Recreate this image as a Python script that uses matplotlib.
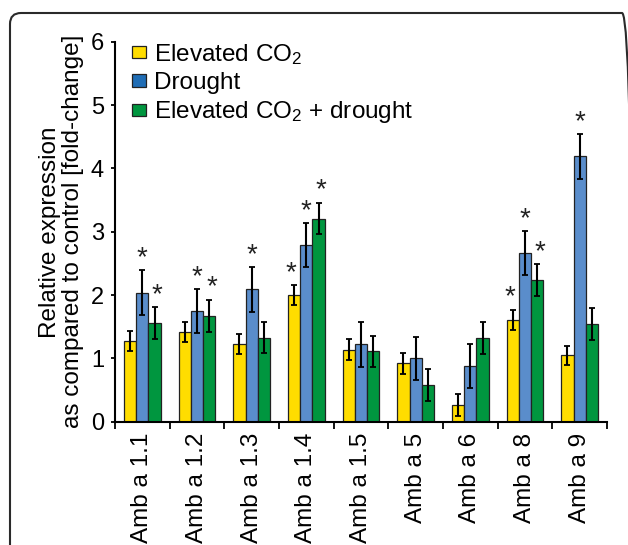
import matplotlib
matplotlib.use('Agg')
import matplotlib.pyplot as plt
import matplotlib.patches as mpatches
import matplotlib.transforms as mtransforms
import numpy as np

plt.rcParams['font.family'] = ['Liberation Sans', 'DejaVu Sans']
plt.rcParams['mathtext.default'] = 'regular'

genes = ['Amb a 1.1', 'Amb a 1.2', 'Amb a 1.3', 'Amb a 1.4', 'Amb a 1.5',
         'Amb a 5', 'Amb a 6', 'Amb a 8', 'Amb a 9']
co2 = [1.28, 1.42, 1.23, 2.00, 1.14, 0.92, 0.26, 1.61, 1.05]
co2_err = [0.16, 0.16, 0.16, 0.16, 0.16, 0.16, 0.17, 0.16, 0.15]
drought = [2.04, 1.75, 2.09, 2.79, 1.22, 1.00, 0.88, 2.66, 4.19]
drought_err = [0.35, 0.35, 0.35, 0.35, 0.36, 0.34, 0.35, 0.35, 0.35]
both = [1.56, 1.67, 1.33, 3.21, 1.11, 0.58, 1.32, 2.24, 1.54]
both_err = [0.25, 0.26, 0.25, 0.25, 0.25, 0.26, 0.25, 0.25, 0.25]
# significance stars (1 = marked)
co2_sig = [0, 0, 0, 1, 0, 0, 0, 1, 0]
drought_sig = [1, 1, 1, 1, 0, 0, 0, 1, 1]
both_sig = [1, 1, 0, 1, 0, 0, 0, 1, 0]

labels = ['Elevated CO$_2$', 'Drought', 'Elevated CO$_2$ + drought']
bar_colors = ['#FFDD00', '#5A8DCB', '#00963F']
legend_colors = ['#FFDD00', '#1F6DB5', '#00963F']

W, H = 628, 545
fig = plt.figure(figsize=(W / 100, H / 100), dpi=100)

# rounded frame around the panel
frame = mpatches.FancyBboxPatch((10, -30), 623, 532 + 30,
                                boxstyle='round,pad=0,rounding_size=11',
                                transform=mtransforms.IdentityTransform(),
                                fill=False, edgecolor='#2a2a2a', linewidth=1.5)
fig.patches.append(frame)

ax = fig.add_axes([115 / W, 1 - 421.7 / H, 492 / W, (421.7 - 41.9) / H])

x = np.arange(len(genes))
bw = 0.224
series = [(co2, co2_err, co2_sig), (drought, drought_err, drought_sig),
          (both, both_err, both_sig)]
for k, (vals, errs, sig) in enumerate(series):
    xs = x + (k - 1) * bw
    ax.bar(xs, vals, bw, color=bar_colors[k], edgecolor='#222222', linewidth=0.9,
           yerr=errs, error_kw=dict(ecolor='black', elinewidth=1.5, capsize=2,
                                    capthick=1.3), zorder=2)
    for i in range(len(genes)):
        if sig[i]:
            ax.text(xs[i] + (k - 1) * 0.05, vals[i] + errs[i] + 0.08, '*',
                    ha='center', va='baseline', fontsize=20, color='#222222')

ax.set_xlim(-0.5, len(genes) - 0.5)
ax.set_ylim(0, 6)
ax.set_yticks(range(0, 7))
ax.tick_params(axis='y', direction='out', length=3, width=1.3, pad=5, labelsize=17)

ax.set_xticks(np.arange(-0.5, len(genes), 1))
ax.set_xticklabels([])
ax.tick_params(axis='x', which='major', direction='out', length=5, width=1.3)
ax.set_xticks(x, minor=True)
ax.set_xticklabels(genes, minor=True, rotation=90, fontsize=17.5, va='top')
ax.tick_params(axis='x', which='minor', length=0, pad=8)

for s in ['top', 'right']:
    ax.spines[s].set_visible(False)
for s in ['left', 'bottom']:
    ax.spines[s].set_linewidth(1.5)

ax.set_ylabel('Relative expression\nas compared to control [fold-change]',
              fontsize=17.5, labelpad=5, linespacing=1.05)

handles = [mpatches.Patch(facecolor=c, edgecolor='#222222', linewidth=0.9)
           for c in legend_colors]
ax.legend(handles, labels, loc='upper left', bbox_to_anchor=(0.035, 1.0),
          frameon=False, fontsize=17.5, handlelength=0.55, handleheight=0.4,
          handletextpad=0.35, labelspacing=0.22, borderpad=0, borderaxespad=0)

fig.savefig('out.png', dpi=100)
